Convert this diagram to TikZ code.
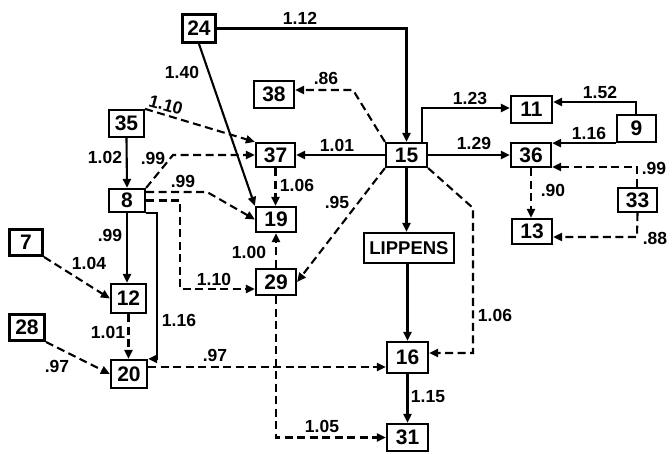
\documentclass[tikz,border=0pt]{standalone}
\usepackage{fontspec}
\setmainfont{Liberation Sans}
\usetikzlibrary{arrows.meta}
\begin{document}
\begin{tikzpicture}[x=1pt,y=-1pt,
  box/.style={draw, line width=2.2pt, inner sep=0pt, font=\fontsize{21}{21}\selectfont\bfseries},
  thickbox/.style={box, line width=3pt},
  lbl/.style={inner sep=0pt, font=\fontsize{17.5}{17.5}\selectfont\bfseries},
  conn/.style={line width=2.1pt, -{Triangle[length=9pt,width=8pt]}},
  dconn/.style={conn, dash pattern=on 8pt off 4.5pt},
]
\useasboundingbox (0,0) rectangle (672,454);
% nodes
\node[thickbox, minimum width=33pt, minimum height=28pt] (n24) at (199,28.5) {24};
\node[box, minimum width=40pt, minimum height=27pt] (n38) at (274,94.5) {38};
\node[box, minimum width=35pt, minimum height=27pt] (n35) at (126.5,123.5) {35};
\node[box, minimum width=39pt, minimum height=24pt] (n37) at (275.5,155) {37};
\node[box, minimum width=36pt, minimum height=23pt] (n8) at (127,200.5) {8};
\node[box, minimum width=40pt, minimum height=25pt] (n19) at (276,219.5) {19};
\node[box, minimum width=40pt, minimum height=26pt] (n29) at (276,282) {29};
\node[thickbox, minimum width=33pt, minimum height=26pt] (n7) at (26,242.5) {7};
\node[box, minimum width=35pt, minimum height=29pt] (n12) at (128.5,298.5) {12};
\node[thickbox, minimum width=35pt, minimum height=26pt] (n28) at (27,327.5) {28};
\node[box, minimum width=36pt, minimum height=28pt] (n20) at (129,374) {20};
\node[box, minimum width=41pt, minimum height=24pt] (n15) at (406.5,155) {15};
\node[box, minimum width=41pt, minimum height=27pt] (n11) at (531.5,109.5) {11};
\node[box, minimum width=39pt, minimum height=27pt] (n9) at (636.5,128.5) {9};
\node[box, minimum width=40pt, minimum height=24pt] (n36) at (531,155) {36};
\node[box, minimum width=39pt, minimum height=24pt] (n33) at (637.5,200) {33};
\node[box, minimum width=40pt, minimum height=25pt] (n13) at (532,231.5) {13};
\node[box, minimum width=90pt, minimum height=30pt, font=\fontsize{18.5}{18.5}\selectfont\bfseries] (nL) at (409,248) {LIPPENS};
\node[box, minimum width=41pt, minimum height=31pt] (n16) at (407.5,357.5) {16};
\node[box, minimum width=41pt, minimum height=27pt] (n31) at (407.5,437.5) {31};
% bend coordinates
\coordinate (b1) at (207,192);
\coordinate (b2) at (180,289);
\coordinate (b3) at (157,0);
\coordinate (b4) at (0,367);
\coordinate (b5) at (353,90);
\coordinate (b6) at (473,208);
\coordinate (b7) at (473,353);
\coordinate (b8) at (422,108);
\coordinate (b9) at (636,102);
\coordinate (b10) at (637,167);
\coordinate (b11) at (637,237);
\coordinate (b12) at (173,155);
% connectors
\draw[conn, line width=2.6pt] (n24.east) -| (n15.north);
\draw[conn] (n24.south) -- (n19.north west);
\draw[dconn] (n35.north east) -- (n37.north west);
\draw[conn] (n35.south) -- (n8.north);
\draw[dconn] (n8.north east) -- (b12) -- (n37.west);
\draw[dconn] (b1 -| n8.east) -- (b1) -- (n19.west);
\draw[dconn] (n8.east) -| (b2) -- (b2 -| n29.west);
\draw[conn] (n8.south east) -- (n8.south east -| b3) -- (b3 |- n20.north east) -- (n20.north east);
\draw[conn] (n8.south) -- (n8.south |- n12.north);
\draw[dconn] (n7.south east) -- (n12.west);
\draw[dconn] (n12.south) -- (n12.south |- n20.north);
\draw[dconn] (n28.south east) -- (n20.west);
\draw[dconn] (b4 -| n20.east) -- (b4 -| n16.west);
\draw[dconn] (n37.south) -- (n37.south |- n19.north);
\draw[dconn] (n29.north) -- (n29.north |- n19.south);
\draw[dconn] (n29.south) |- (n31.west);
\draw[conn] (n15.west) -- (n37.east);
\draw[dconn] (n15.north west) -- (b5) -- (b5 -| n38.east);
\draw[dconn] (n15.south west) -- (n29.east);
\draw[conn] (n15.south) -- (n15.south |- nL.north);
\draw[conn] (nL.south -| n16.north) -- (n16.north);
\draw[dconn] (n15.south east) -- (b6) -- (b7) -- (b7 -| n16.east);
\draw[conn] (b8 |- n15.north) -- (b8) -- (b8 -| n11.west);
\draw[conn] (n15.east) -- (n36.west);
\draw[conn] (b9 |- n9.north) -- (b9) -- (b9 -| n11.east);
\draw[conn] (n9.south west) -- (n9.south west -| n36.east);
\draw[dconn] (b10 |- n33.north) -- (b10) -- (b10 -| n36.east);
\draw[dconn] (n36.south) -- (n36.south |- n13.north);
\draw[dconn] (n33.south) -- (b11) -- (b11 -| n13.east);
\draw[conn] (n16.south) -- (n31.north);
% labels
\node[lbl] at (300,18) {1.12};
\node[lbl] at (182,72) {1.40};
\node[lbl] at (326,78) {.86};
\node[lbl, rotate=-15] at (166,105) {1.10};
\node[lbl] at (105,157) {1.02};
\node[lbl] at (153,158) {.99};
\node[lbl] at (183,181) {.99};
\node[lbl] at (297,185) {1.06};
\node[lbl] at (337,202) {.95};
\node[lbl] at (337,145) {1.01};
\node[lbl] at (470,98) {1.23};
\node[lbl] at (474,143) {1.29};
\node[lbl] at (600,92) {1.52};
\node[lbl] at (589,133) {1.16};
\node[lbl] at (654,168) {.99};
\node[lbl] at (553,190) {.90};
\node[lbl] at (655,238) {.88};
\node[lbl] at (110,235) {.99};
\node[lbl] at (89,263) {1.04};
\node[lbl] at (214,279) {1.10};
\node[lbl] at (249,252) {1.00};
\node[lbl] at (108,332) {1.01};
\node[lbl] at (179,320) {1.16};
\node[lbl] at (57,366) {.97};
\node[lbl] at (215,355) {.97};
\node[lbl] at (322,426) {1.05};
\node[lbl] at (495,315) {1.06};
\node[lbl] at (428,397) {1.15};
\end{tikzpicture}
\end{document}
